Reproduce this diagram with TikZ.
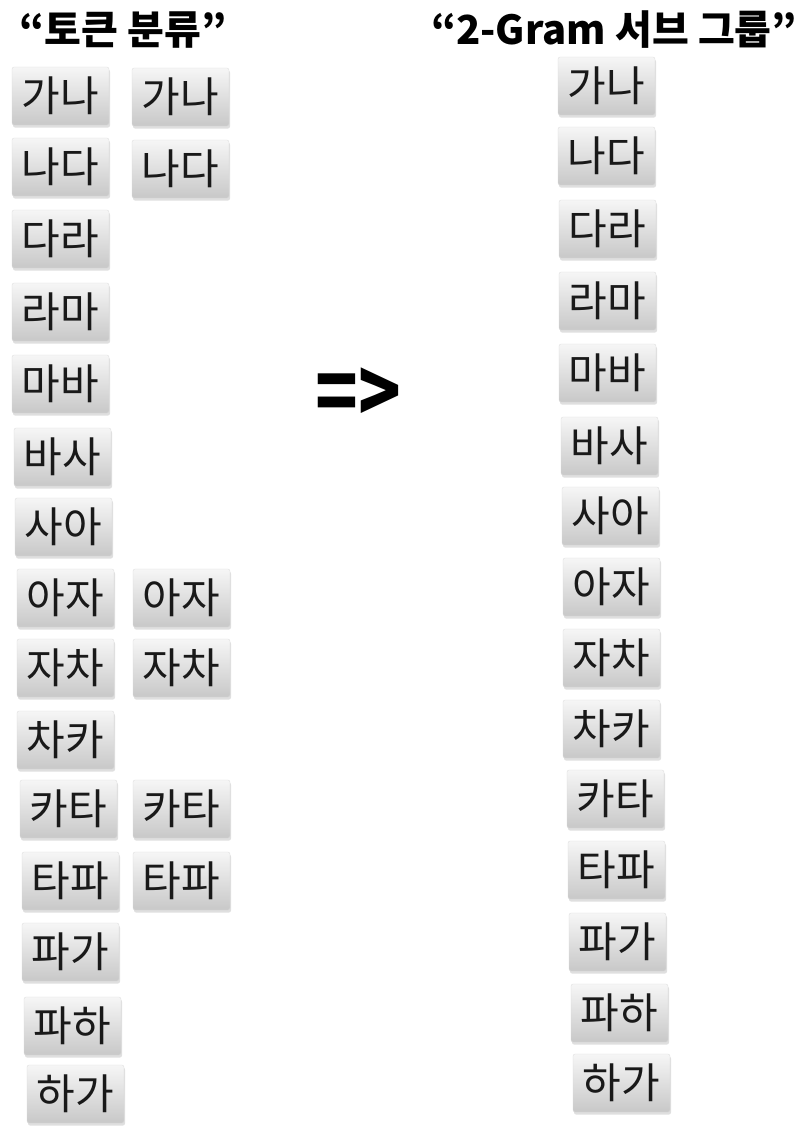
\documentclass[tikz,border=0pt]{standalone}
\usepackage{fontspec}
\setmainfont{Noto Sans CJK KR}
\usepackage{tikz}
\usetikzlibrary{shadows}
\definecolor{ink}{HTML}{000000}
\definecolor{keytop}{HTML}{F6F6F6}
\definecolor{keybottom}{HTML}{C8C8C8}
\definecolor{keyedge}{HTML}{DADADA}
\tikzset{
  tokenkey/.style={
    draw=keyedge, line width=0.3pt, rounded corners=2pt,
    top color=keytop, bottom color=keybottom,
    drop shadow={shadow xshift=1pt, shadow yshift=-2.5pt, opacity=0.25},
    minimum width=97pt, minimum height=58pt, inner sep=0pt,
    font=\fontsize{42}{42}\selectfont, text=ink!90
  },
  grouptitle/.style={
    font=\bfseries\fontsize{40}{44}\selectfont, text=ink, inner sep=0pt
  },
  bigarrow/.style={
    font=\bfseries\fontsize{64}{64}\selectfont, text=ink, inner sep=0pt
  }
}

\begin{document}
\begin{tikzpicture}[x=1pt,y=-1pt]
  \useasboundingbox (0,0) rectangle (808,1136);
  % titles and the arrow between the two lists
  \node[grouptitle] (lefttitle) at (123,30) {“토큰 분류”};
  \node[grouptitle] (righttitle) at (614,30) {“2-Gram 서브 그룹”};
  \node[bigarrow] (arrow) at (358,396) {\scalebox{1.1}[1.35]{=>}};
  % tokens, first column
  \foreach \name/\word/\x/\y in {l1/가나/12/67, l2/나다/12/138, l3/다라/12/210,
      l4/라마/12/283, l5/마바/12/355, l6/바사/14/428, l7/사아/15/498,
      l8/아자/17/569, l9/자차/17/639, l10/차카/17/711, l11/카타/20/780,
      l12/타파/22/852, l13/파가/22/923, l14/파하/24/997, l15/하가/27/1065}
    \node[tokenkey] (\name) at (\x+48.5,\y+29) {\word};
  % tokens, second column
  \foreach \name/\word/\x/\y in {m1/가나/132/68, m2/나다/132/140,
      m8/아자/133/569, m9/자차/133/639, m11/카타/133/780, m12/타파/133/852}
    \node[tokenkey] (\name) at (\x+48.5,\y+29) {\word};
  % 2-gram sub groups
  \foreach \name/\word/\x/\y in {r1/가나/558/57, r2/나다/558/127, r3/다라/559/200,
      r4/라마/559/272, r5/마바/559/344, r6/바사/561/417, r7/사아/562/487,
      r8/아자/563/558, r9/자차/563/629, r10/차카/563/700, r11/카타/567/770,
      r12/타파/568/841, r13/파가/569/913, r14/파하/571/984, r15/하가/573/1054}
    \node[tokenkey] (\name) at (\x+48.5,\y+29) {\word};
\end{tikzpicture}
\end{document}
